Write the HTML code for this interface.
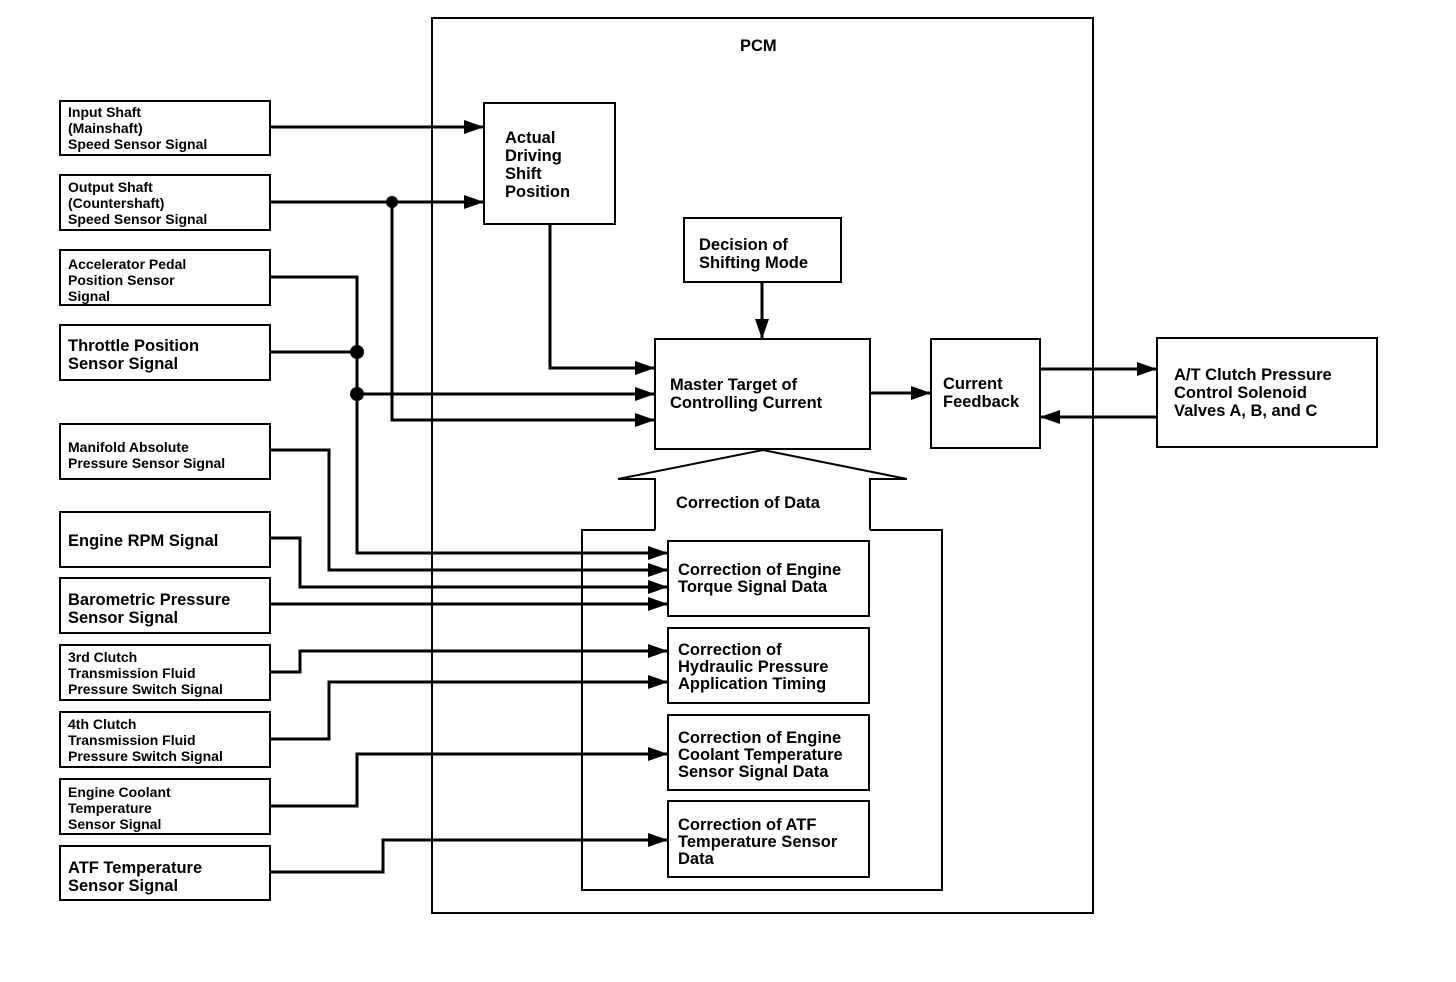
<!DOCTYPE html>
<html><head><meta charset="utf-8"><style>
html,body{margin:0;padding:0;background:#fff}
svg{display:block}
text{font-family:"Liberation Sans",Arial,sans-serif;font-weight:bold;fill:#000}
.s{font-size:14px}
.m{font-size:16.5px}
</style></head><body>
<svg width="1456" height="982" viewBox="0 0 1456 982" xmlns="http://www.w3.org/2000/svg">
<defs>
<marker id="a" markerWidth="20" markerHeight="14" refX="20" refY="7" orient="auto" markerUnits="userSpaceOnUse">
<path d="M0,0 L20,7 L0,14 Z" fill="#000"/></marker>
</defs>
<g fill="none" stroke="#000" stroke-width="2">
<rect x="432" y="18" width="661" height="895"/>
<rect x="60" y="101" width="210" height="54"/>
<rect x="60" y="175" width="210" height="55"/>
<rect x="60" y="250" width="210" height="55"/>
<rect x="60" y="325" width="210" height="55"/>
<rect x="60" y="424" width="210" height="55"/>
<rect x="60" y="512" width="210" height="55"/>
<rect x="60" y="578" width="210" height="55"/>
<rect x="60" y="645" width="210" height="55"/>
<rect x="60" y="712" width="210" height="55"/>
<rect x="60" y="779" width="210" height="55"/>
<rect x="60" y="846" width="210" height="54"/>
<rect x="484" y="103" width="131" height="121"/>
<rect x="684" y="218" width="157" height="64"/>
<rect x="655" y="339" width="215" height="110"/>
<rect x="931" y="339" width="109" height="109"/>
<rect x="1157" y="338" width="220" height="109"/>
<rect x="668" y="541" width="201" height="75"/>
<rect x="668" y="628" width="201" height="75"/>
<rect x="668" y="715" width="201" height="75"/>
<rect x="668" y="801" width="201" height="76"/>
<path d="M655,530 L582,530 L582,890 L942,890 L942,530 L870,530"/>
<path d="M655,530 L655,479 L618,479 L763,450 L907,479 L870,479 L870,530"/>
</g>
<g fill="none" stroke="#000" stroke-width="3">
<line x1="270" y1="127" x2="484" y2="127" marker-end="url(#a)"/>
<line x1="270" y1="202" x2="484" y2="202" marker-end="url(#a)"/>
<polyline points="392,202 392,420 655,420" marker-end="url(#a)"/>
<polyline points="550,224 550,368 655,368" marker-end="url(#a)"/>
<polyline points="270,277 357,277 357,553 668,553" marker-end="url(#a)"/>
<line x1="270" y1="352" x2="357" y2="352"/>
<line x1="357" y1="394" x2="655" y2="394" marker-end="url(#a)"/>
<polyline points="270,450 329,450 329,570 668,570" marker-end="url(#a)"/>
<polyline points="270,538 300,538 300,587 668,587" marker-end="url(#a)"/>
<line x1="270" y1="604" x2="668" y2="604" marker-end="url(#a)"/>
<polyline points="270,672 300,672 300,651 668,651" marker-end="url(#a)"/>
<polyline points="270,739 329,739 329,682 668,682" marker-end="url(#a)"/>
<polyline points="270,806 357,806 357,754 668,754" marker-end="url(#a)"/>
<polyline points="270,872 383,872 383,840 668,840" marker-end="url(#a)"/>
<line x1="762" y1="282" x2="762" y2="339" marker-end="url(#a)"/>
<line x1="870" y1="393" x2="931" y2="393" marker-end="url(#a)"/>
<line x1="1040" y1="369" x2="1157" y2="369" marker-end="url(#a)"/>
<line x1="1157" y1="417" x2="1040" y2="417" marker-end="url(#a)"/>
</g>
<circle cx="392" cy="202" r="6" fill="#000"/>
<circle cx="357" cy="352" r="7" fill="#000"/>
<circle cx="357" cy="394" r="7" fill="#000"/>

<text class="m" x="740" y="51">PCM</text>
<text class="s"><tspan x="68" y="117">Input Shaft</tspan><tspan x="68" y="133">(Mainshaft)</tspan><tspan x="68" y="149">Speed Sensor Signal</tspan></text>
<text class="s"><tspan x="68" y="192">Output Shaft</tspan><tspan x="68" y="208">(Countershaft)</tspan><tspan x="68" y="224">Speed Sensor Signal</tspan></text>
<text class="s"><tspan x="68" y="269">Accelerator Pedal</tspan><tspan x="68" y="285">Position Sensor</tspan><tspan x="68" y="301">Signal</tspan></text>
<text class="m"><tspan x="68" y="351">Throttle Position</tspan><tspan x="68" y="369">Sensor Signal</tspan></text>
<text class="s"><tspan x="68" y="452">Manifold Absolute</tspan><tspan x="68" y="468">Pressure Sensor Signal</tspan></text>
<text class="m"><tspan x="68" y="546">Engine RPM Signal</tspan></text>
<text class="m"><tspan x="68" y="605">Barometric Pressure</tspan><tspan x="68" y="623">Sensor Signal</tspan></text>
<text class="s"><tspan x="68" y="662">3rd Clutch</tspan><tspan x="68" y="678">Transmission Fluid</tspan><tspan x="68" y="694">Pressure Switch Signal</tspan></text>
<text class="s"><tspan x="68" y="729">4th Clutch</tspan><tspan x="68" y="745">Transmission Fluid</tspan><tspan x="68" y="761">Pressure Switch Signal</tspan></text>
<text class="s"><tspan x="68" y="797">Engine Coolant</tspan><tspan x="68" y="813">Temperature</tspan><tspan x="68" y="829">Sensor Signal</tspan></text>
<text class="m"><tspan x="68" y="873">ATF Temperature</tspan><tspan x="68" y="891">Sensor Signal</tspan></text>

<text class="m"><tspan x="505" y="143">Actual</tspan><tspan x="505" y="161">Driving</tspan><tspan x="505" y="179">Shift</tspan><tspan x="505" y="197">Position</tspan></text>
<text class="m"><tspan x="699" y="250">Decision of</tspan><tspan x="699" y="268">Shifting Mode</tspan></text>
<text class="m"><tspan x="670" y="390">Master Target of</tspan><tspan x="670" y="408">Controlling Current</tspan></text>
<text class="m"><tspan x="943" y="389">Current</tspan><tspan x="943" y="407">Feedback</tspan></text>
<text class="m"><tspan x="1174" y="380">A/T Clutch Pressure</tspan><tspan x="1174" y="398">Control Solenoid</tspan><tspan x="1174" y="416">Valves A, B, and C</tspan></text>
<text class="m" x="676" y="508">Correction of Data</text>
<text class="m"><tspan x="678" y="575">Correction of Engine</tspan><tspan x="678" y="592">Torque Signal Data</tspan></text>
<text class="m"><tspan x="678" y="655">Correction of</tspan><tspan x="678" y="672">Hydraulic Pressure</tspan><tspan x="678" y="689">Application Timing</tspan></text>
<text class="m"><tspan x="678" y="743">Correction of Engine</tspan><tspan x="678" y="760">Coolant Temperature</tspan><tspan x="678" y="777">Sensor Signal Data</tspan></text>
<text class="m"><tspan x="678" y="830">Correction of ATF</tspan><tspan x="678" y="847">Temperature Sensor</tspan><tspan x="678" y="864">Data</tspan></text>
</svg>
</body></html>
